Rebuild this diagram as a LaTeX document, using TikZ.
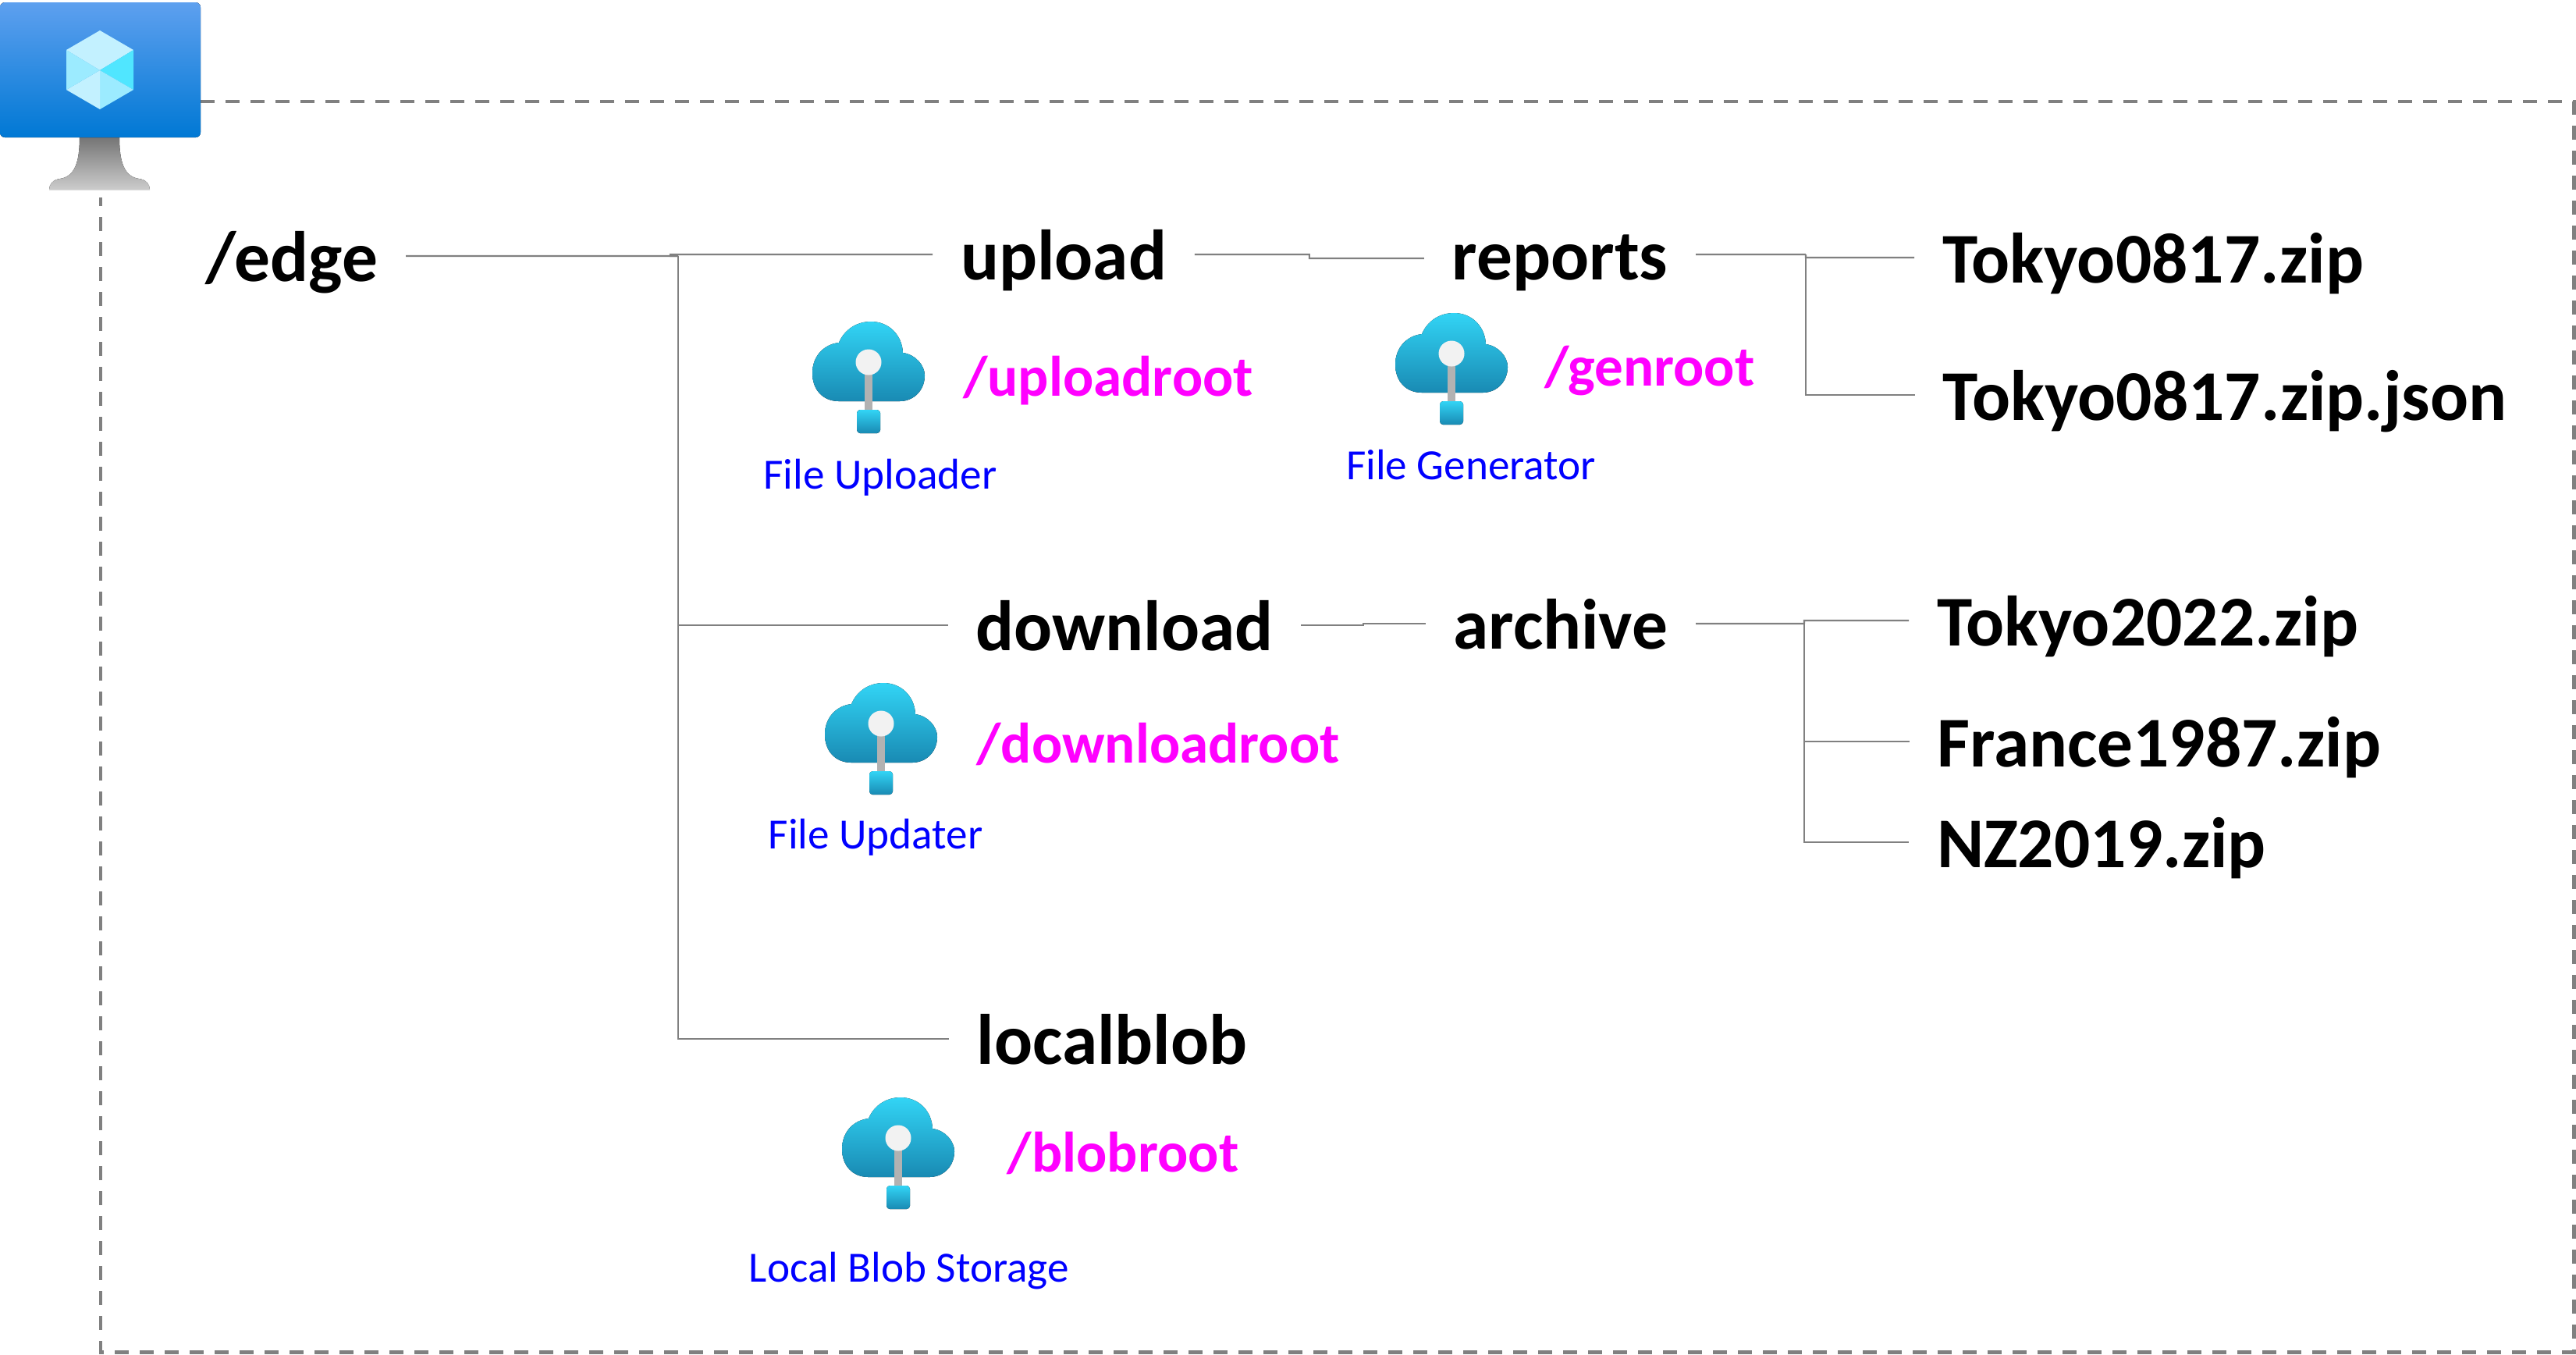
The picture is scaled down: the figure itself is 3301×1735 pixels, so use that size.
\documentclass[tikz,border=0pt]{standalone}
\usepackage{fontspec}
\setmainfont{Carlito}
\usepackage{tikz}
\usetikzlibrary{calc}
\definecolor{linegray}{HTML}{808080}
\definecolor{cloudtop}{HTML}{32D4F5}
\definecolor{cloudbot}{HTML}{198AB3}
\definecolor{rootpink}{HTML}{FF00FF}
\definecolor{vmtop}{HTML}{5EA0EF}
\definecolor{vmbot}{HTML}{0078D4}
\definecolor{standtop}{HTML}{757575}
\definecolor{standbot}{HTML}{CCCCCC}
\definecolor{cubepale}{HTML}{C3F1FF}
\definecolor{cubemid}{HTML}{9CEBFF}
\definecolor{cubedeep}{HTML}{50E6FF}
\tikzstyle{line} = [draw=linegray, line width=0.6pt]
\tikzstyle{frame} = [draw=linegray, line width=1.4pt, dash pattern=on 5.1pt off 4pt]
\tikzstyle{folder} = [anchor=base, inner xsep=10pt, inner ysep=0pt, text height=0.8cm, text depth=0.16cm, font=\fontsize{26}{30}\selectfont\bfseries]
\tikzstyle{rootname} = [anchor=base, inner sep=0pt, text=rootpink, font=\fontsize{20.8}{24}\selectfont\bfseries]
\tikzstyle{service} = [anchor=base, inner sep=0pt, text=blue, font=\fontsize{15.7}{18}\selectfont]
\tikzset{
  cloudicon/.pic={
    \fill[top color=cloudtop, bottom color=cloudbot] (-38,50) .. controls (-58,50) and (-72,36) .. (-72,14)
      .. controls (-72,-8) and (-57,-23) .. (-38,-25) .. controls (-31,-42) and (-15,-52) .. (3,-52)
      .. controls (26,-52) and (43,-35) .. (44,-12) .. controls (60,-10) and (72,4) .. (72,17)
      .. controls (72,36) and (58,50) .. (40,50) -- cycle;
    \fill[black!30] (-5,10) rectangle (5,62);
    \fill[black!5] (0,0) circle (16.5);
    \fill[top color=cloudtop, bottom color=cloudbot, rounded corners=1.2pt] (-15,61) rectangle (15,91);
  }
}

\begin{document}
\begin{tikzpicture}[x=0.01cm, y=-0.01cm]
        \useasboundingbox (0,0) rectangle (3301,1735);
        % dashed box around the VM
        \path[frame] (257,130) -- (3298,130) -- (3298,1732) -- (129,1732) -- (129,253);
        % VM icon
        \fill[top color=standtop, bottom color=standbot] (102,176) -- (153,176) .. controls (153,205) and (158,226) .. (178,229)
            .. controls (187,230) and (192,236) .. (192,243) -- (63,243) .. controls (63,236) and (68,230) .. (77,229)
            .. controls (97,226) and (102,205) .. (102,176) -- cycle;
        \fill[top color=vmtop, bottom color=vmbot, rounded corners=1.8pt] (0,3) rectangle (257,176);
        \fill[cubepale] (128,39) -- (171,64) -- (128,90) -- (85,64) -- cycle;
        \fill[cubedeep] (171,64) -- (128,90) -- (171,115) -- cycle;
        \fill[cubemid] (128,90) -- (171,115) -- (128,140) -- cycle;
        \fill[cubepale] (128,90) -- (128,140) -- (85,115) -- cycle;
        \fill[cubemid] (85,64) -- (128,90) -- (85,115) -- cycle;
        % folders
        \node[folder] (edge) at (374,360) {/edge};
        \node[folder] (upload) at (1363,358) {upload};
        \node[folder] (reports) at (1999,358) {reports};
        \node[folder] (tokyozip) at (2759,362) {Tokyo0817.zip};
        \node[folder] (tokyojson) at (2851,538) {Tokyo0817.zip.json};
        \node[folder] (download) at (1441,833) {download};
        \node[folder] (archive) at (2000,831) {archive};
        \node[folder] (tokyoold) at (2752,827) {Tokyo2022.zip};
        \node[folder] (france) at (2767,982) {France1987.zip};
        \node[folder] (nz) at (2693,1111) {NZ2019.zip};
        \node[folder] (localblob) at (1425,1363) {localblob};
        % modules
        \pic at (1113,464) {cloudicon};
        \node[rootname] (uploadroot) at (1420,507) {/uploadroot};
        \node[service] (uploader) at (1128,626) {File Uploader};
        \pic at (1860,453) {cloudicon};
        \node[rootname] (genroot) at (2114,494) {/genroot};
        \node[service] (generator) at (1885,614) {File Generator};
        \pic at (1129,927) {cloudicon};
        \node[rootname] (downloadroot) at (1484,977) {/downloadroot};
        \node[service] (updater) at (1122,1087) {File Updater};
        \pic at (1151,1458) {cloudicon};
        \node[rootname] (blobroot) at (1439,1501) {/blobroot};
        \node[service] (blobstore) at (1165,1642) {Local Blob Storage};
        % connectors
        \coordinate (trunk) at (869,328);
        \coordinate (repfork) at (2314,326);
        \coordinate (arcfork) at (2312,799);
        \path[line] (edge.east) -- (trunk);
        \path[line] (trunk) -- +(-10,0) -- +(-10,-2) -- (upload.west);
        \path[line] (trunk) |- (localblob.west);
        \path[line] (trunk |- download.west) -- (download.west);
        \path[line] (upload.east) -- +(147,0) -- +(147,5) -- ([yshift=-0.05cm]reports.west);
        \path[line] (reports.east) -- (repfork);
        \path[line] (repfork) -- +(0,4) -- (tokyozip.west);
        \path[line] (repfork) |- (tokyojson.west);
        \path[line] (download.east) -- +(80,0) -- +(80,-2) -- (archive.west);
        \path[line] (archive.east) -- (arcfork);
        \path[line] (arcfork) -- +(0,-4) -- (tokyoold.west);
        \path[line] (arcfork) |- (france.west);
        \path[line] (arcfork) |- (nz.west);
\end{tikzpicture}
\end{document}
